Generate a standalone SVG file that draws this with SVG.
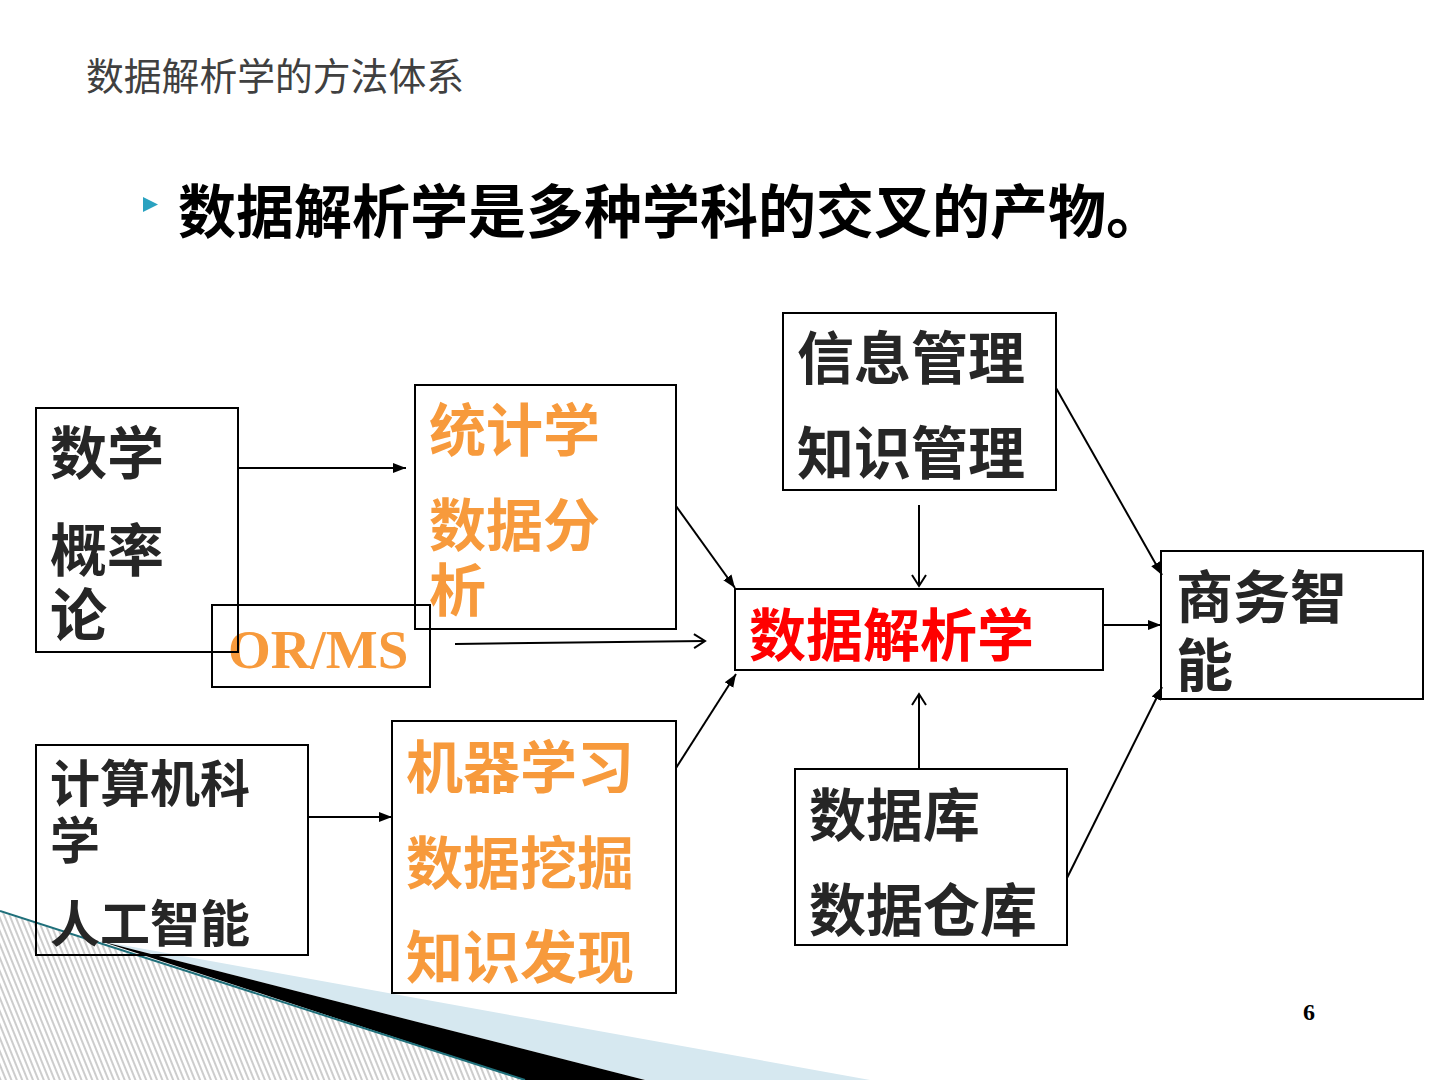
<svg xmlns="http://www.w3.org/2000/svg" width="1440" height="1080" viewBox="0 0 1440 1080">
<style>
.box{fill:none;stroke:#000;stroke-width:2}
.cjk{font-family:"Noto Sans CJK SC","Liberation Sans",sans-serif;font-weight:bold}
.dark{fill:#262626}
.orange{fill:#F79A3C}
.red{fill:#FF0000}
.conn{stroke:#000;stroke-width:2;fill:none}
</style>
<defs>
<marker id="fa" markerUnits="userSpaceOnUse" markerWidth="14" markerHeight="12" refX="13" refY="6" orient="auto">
<path d="M0,1 L13,6 L0,11 z" fill="#000"/>
</marker>
<marker id="oa" markerUnits="userSpaceOnUse" markerWidth="14" markerHeight="16" refX="12" refY="8" orient="auto">
<path d="M1,1 L12,8 L1,15" fill="none" stroke="#000" stroke-width="2"/>
</marker>
<pattern id="hatch" patternUnits="userSpaceOnUse" width="5" height="5" patternTransform="rotate(-22)">
<line x1="1" y1="0" x2="1" y2="5" stroke="#9a9a9a" stroke-width="1"/>
</pattern>
</defs>
<rect width="1440" height="1080" fill="#fff"/>
<g id="decoration">
<polygon points="0,912 525,1080 0,1080" fill="url(#hatch)"/>
<polygon points="100,941 870,1080 645,1080" fill="#d6e8f0"/>
<polygon points="100,941 645,1080 525,1080" fill="#000"/>
<line x1="0" y1="911" x2="525" y2="1080" stroke="#1f6f7a" stroke-width="2"/>
</g>
<g id="title">
<text x="86" y="90" font-family="'Noto Sans CJK SC','Liberation Sans',sans-serif" font-size="37.8" fill="#404040">数据解析学的方法体系</text>
</g>
<g id="bullet">
<polygon points="143,197 158,204.5 143,212" fill="#2aa2c0"/>
<text x="178" y="233" class="cjk" font-size="58" fill="#000">数据解析学是多种学科的交叉的产物。</text>
</g>
<g id="node-ormss">
<rect class="box" x="212" y="605" width="218" height="82"/>
<text x="228" y="668" font-family="'Liberation Serif',serif" font-weight="bold" font-size="55" class="orange">OR/MS</text>
</g>
<g id="node-math">
<rect class="box" x="36" y="408" width="202" height="244"/>
<text class="cjk dark" font-size="57"><tspan x="50" y="474">数学</tspan><tspan x="50" y="571">概率</tspan><tspan x="50" y="636">论</tspan></text>
</g>
<g id="node-stats">
<rect class="box" x="415" y="385" width="261" height="244"/>
<text class="cjk orange" font-size="57"><tspan x="429" y="451">统计学</tspan><tspan x="429" y="546">数据分</tspan><tspan x="429" y="611">析</tspan></text>
</g>
<g id="node-cs">
<rect class="box" x="36" y="745" width="272" height="210"/>
<text class="cjk dark" font-size="50"><tspan x="50" y="802">计算机科</tspan><tspan x="50" y="859">学</tspan><tspan x="50" y="942">人工智能</tspan></text>
</g>
<g id="node-ml">
<rect class="box" x="392" y="721" width="284" height="272"/>
<text class="cjk orange" font-size="57"><tspan x="406" y="788">机器学习</tspan><tspan x="406" y="884">数据挖掘</tspan><tspan x="406" y="978">知识发现</tspan></text>
</g>
<g id="node-da">
<rect class="box" x="735" y="589" width="368" height="81"/>
<text x="749" y="656" class="cjk red" font-size="57">数据解析学</text>
</g>
<g id="node-im">
<rect class="box" x="783" y="313" width="273" height="177"/>
<text class="cjk dark" font-size="57"><tspan x="797" y="379">信息管理</tspan><tspan x="797" y="474">知识管理</tspan></text>
</g>
<g id="node-db">
<rect class="box" x="795" y="769" width="272" height="176"/>
<text class="cjk dark" font-size="57"><tspan x="809" y="836">数据库</tspan><tspan x="809" y="931">数据仓库</tspan></text>
</g>
<g id="node-bi">
<rect class="box" x="1161" y="551" width="262" height="148"/>
<text class="cjk dark" font-size="57"><tspan x="1176" y="618">商务智</tspan><tspan x="1176" y="686">能</tspan></text>
</g>
<g id="connectors">
<line class="conn" x1="238" y1="468" x2="406" y2="468" marker-end="url(#fa)"/>
<line class="conn" x1="308" y1="817" x2="392" y2="817" marker-end="url(#fa)"/>
<line class="conn" x1="676" y1="506" x2="735" y2="588" marker-end="url(#fa)"/>
<line class="conn" x1="676" y1="768" x2="736" y2="674" marker-end="url(#fa)"/>
<line class="conn" x1="455" y1="644" x2="705" y2="641" marker-end="url(#oa)"/>
<line class="conn" x1="919" y1="505" x2="919" y2="586" marker-end="url(#oa)"/>
<line class="conn" x1="919" y1="768" x2="919" y2="694" marker-end="url(#oa)"/>
<line class="conn" x1="1056" y1="388" x2="1162" y2="575" marker-end="url(#fa)"/>
<line class="conn" x1="1103" y1="625" x2="1161" y2="625" marker-end="url(#fa)"/>
<line class="conn" x1="1067" y1="878" x2="1162" y2="687" marker-end="url(#fa)"/>
</g>
<g id="page-number">
<text x="1303" y="1020" font-family="'Liberation Serif',serif" font-weight="bold" font-size="24" fill="#000">6</text>
</g>
</svg>
